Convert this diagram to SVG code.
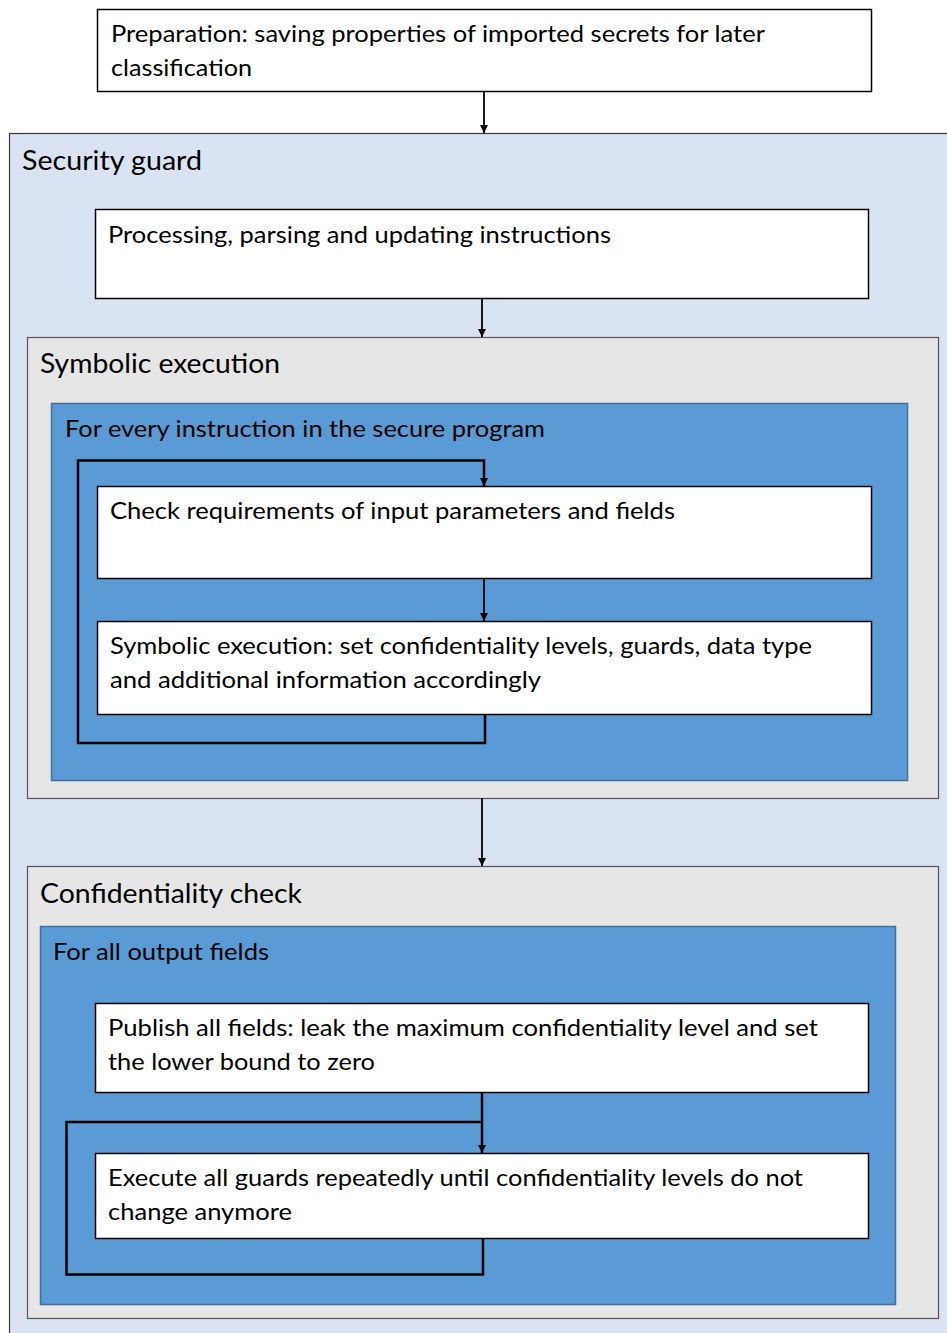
<svg xmlns="http://www.w3.org/2000/svg" width="947" height="1333" viewBox="0 0 947 1333">
<style>
.box{fill:#ffffff;stroke:#000000;stroke-width:1.5}
.outer{fill:#dae3f3;stroke:#3a3a3a;stroke-width:1.2}
.gray{fill:#e6e6e6;stroke:#555555;stroke-width:1.2}
.blue{fill:#5b9bd5;stroke:#41719c;stroke-width:1.5}
.t{font-family:Lato,"Open Sans","Liberation Sans",sans-serif;font-size:23px;fill:#000000}
.h{font-family:Lato,"Open Sans","Liberation Sans",sans-serif;font-size:26px;fill:#000000}
.c{fill:none;stroke:#000000;stroke-width:2.5}
.a{fill:none;stroke:#000000;stroke-width:1.8}
</style>
<defs>
<marker id="arr" markerWidth="10" markerHeight="10" refX="9" refY="5" orient="auto" markerUnits="userSpaceOnUse" viewBox="0 0 10 10">
<path d="M1,1 L9,5 L1,9 Z" fill="#000000"/>
</marker>
</defs>
<rect width="947" height="1333" fill="#ffffff"/>
<g id="security-guard">
<rect class="outer" x="9.5" y="133.5" width="950" height="1210"/>
<text class="h" x="22" y="170" textLength="180" lengthAdjust="spacingAndGlyphs">Security guard</text>
</g>
<g id="preparation">
<rect class="box" x="97.5" y="9.5" width="774" height="82"/>
<text class="t" x="111" y="42" textLength="654" lengthAdjust="spacingAndGlyphs">Preparation: saving properties of imported secrets for later</text>
<text class="t" x="111" y="76" textLength="141" lengthAdjust="spacingAndGlyphs">classification</text>
</g>
<g id="processing">
<rect class="box" x="95.5" y="209.5" width="773" height="89"/>
<text class="t" x="108" y="243" textLength="503" lengthAdjust="spacingAndGlyphs">Processing, parsing and updating instructions</text>
</g>
<g id="symbolic-execution">
<rect class="gray" x="27.5" y="337.5" width="911" height="461"/>
<text class="h" x="40" y="373" textLength="240" lengthAdjust="spacingAndGlyphs">Symbolic execution</text>
</g>
<g id="for-every-instruction">
<rect class="blue" x="51.5" y="403.5" width="856" height="377"/>
<text class="t" x="65" y="437" textLength="480" lengthAdjust="spacingAndGlyphs">For every instruction in the secure program</text>
</g>
<g id="confidentiality-check">
<rect class="gray" x="27.5" y="866.5" width="911" height="452"/>
<text class="h" x="40" y="903" textLength="262" lengthAdjust="spacingAndGlyphs">Confidentiality check</text>
</g>
<g id="for-all-output-fields">
<rect class="blue" x="40.5" y="926.5" width="855" height="378"/>
<text class="t" x="53" y="960" textLength="216" lengthAdjust="spacingAndGlyphs">For all output fields</text>
</g>
<g id="connectors">
<path class="a" d="M484,91 L484,133" marker-end="url(#arr)"/>
<path class="a" d="M482,298 L482,337" marker-end="url(#arr)"/>
<path class="c" d="M485,714 L485,743 L78,743 L78,460.5 L484,460.5 L484,486" marker-end="url(#arr)"/>
<path class="a" d="M484,578 L484,621" marker-end="url(#arr)"/>
<path class="a" d="M482,798 L482,866" marker-end="url(#arr)"/>
<path class="c" d="M482,1092 L482,1153" marker-end="url(#arr)"/>
<path class="c" d="M483,1238 L483,1274.5 L66.5,1274.5 L66.5,1122 L482,1122"/>
</g>
<g id="check-requirements">
<rect class="box" x="97.5" y="486.5" width="774" height="92"/>
<text class="t" x="110" y="519" textLength="565" lengthAdjust="spacingAndGlyphs">Check requirements of input parameters and fields</text>
</g>
<g id="symbolic-step">
<rect class="box" x="97.5" y="621.5" width="774" height="93"/>
<text class="t" x="110" y="654" textLength="702" lengthAdjust="spacingAndGlyphs">Symbolic execution: set confidentiality levels, guards, data type</text>
<text class="t" x="110" y="688" textLength="431" lengthAdjust="spacingAndGlyphs">and additional information accordingly</text>
</g>
<g id="publish-fields">
<rect class="box" x="95.5" y="1003.5" width="773" height="89"/>
<text class="t" x="108" y="1036" textLength="710" lengthAdjust="spacingAndGlyphs">Publish all fields: leak the maximum confidentiality level and set</text>
<text class="t" x="108" y="1070" textLength="267" lengthAdjust="spacingAndGlyphs">the lower bound to zero</text>
</g>
<g id="execute-guards">
<rect class="box" x="95.5" y="1153.5" width="773" height="85"/>
<text class="t" x="108" y="1186" textLength="695" lengthAdjust="spacingAndGlyphs">Execute all guards repeatedly until confidentiality levels do not</text>
<text class="t" x="108" y="1220" textLength="184" lengthAdjust="spacingAndGlyphs">change anymore</text>
</g>
</svg>
